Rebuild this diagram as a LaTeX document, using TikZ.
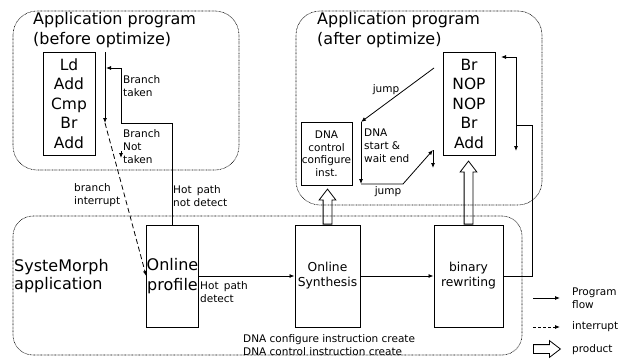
\documentclass[tikz,border=0pt]{standalone}
\usepackage{fontspec}
\setmainfont{DejaVu Sans}
\usetikzlibrary{arrows.meta,shapes.arrows}

\begin{document}
\begin{tikzpicture}[x=1pt, y=-1pt,
    panel/.style={draw, line width=.6pt, dash pattern=on .7pt off .7pt, rounded corners=24pt},
    title/.style={align=left, anchor=west, inner sep=0pt, font=\fontsize{16}{19.5}\selectfont},
    prog/.style={draw, line width=1pt, align=center, inner sep=0pt, minimum width=52pt, minimum height=103pt, font=\fontsize{15.5}{19.5}\selectfont},
    unit/.style={draw, line width=1pt, align=center, inner sep=0pt},
    lbl/.style={align=left, anchor=west, inner sep=0pt, font=\fontsize{10.5}{13}\selectfont},
    flow/.style={line width=.8pt, -{Latex[length=5pt,width=4pt]}},
    intr/.style={flow, dash pattern=on 5pt off 3pt},
    product/.style={draw, line width=.8pt, single arrow, single arrow head extend=4pt, single arrow tip angle=75, inner xsep=0pt, inner ysep=4pt}]
    \useasboundingbox (0,0) rectangle (635,359);

    \draw[panel] (13,11) rectangle (239,170);
    \draw[panel] (296,11) rectangle (542,205);
    \draw[panel, rounded corners=20pt] (13,216) rectangle (522,355);

    \node[title] (beforet) at (33,30) {Application program\\(before optimize)};
    \node[title] (aftert) at (317,30) {Application program\\(after optimize)};
    \node[title, font=\fontsize{16}{18.5}\selectfont] (sys) at (14,276) {SysteMorph\\application};

    \node[prog] (src) at (69,103.5) {Ld\\Add\\Cmp\\Br\\Add};
    \node[prog] (dst) at (469,103.5) {Br\\NOP\\NOP\\Br\\Add};
    \node[unit, minimum width=51pt, minimum height=63pt, font=\fontsize{10.5}{12.5}\selectfont] (dna) at (326.5,153.5) {DNA\\control\\configure\\inst.};
    \node[unit, minimum width=51pt, minimum height=102pt, font=\fontsize{16}{20}\selectfont] (profile) at (172.5,276) {Online\\profile};
    \node[unit, minimum width=65pt, minimum height=102pt, font=\fontsize{12.3}{15}\selectfont] (synth) at (327.5,276) {Online\\Synthesis};
    \node[unit, minimum width=69pt, minimum height=102pt, font=\fontsize{12.3}{15}\selectfont] (rewrite) at (468.5,276) {binary\\rewriting};

    \coordinate (f0) at (105,52);
    \coordinate (f1) at (105,123);
    \coordinate (bt) at (121,123);
    \coordinate (tk) at (106,68);
    \coordinate (nt0) at (121,151);
    \coordinate (nt1) at (121,158);
    \coordinate (rw) at (532,125);
    \coordinate (sp) at (516,125);
    \coordinate (back) at (501,57);
    \coordinate (down) at (516,151);
    \coordinate (j0) at (434,68);
    \coordinate (w0) at (361,122);
    \coordinate (w1) at (361,184);
    \coordinate (jb) at (403,184);
    \coordinate (jt) at (433,150);
    \coordinate (jd) at (433,168);

    \draw[flow] (f0) -- (f1);
    \draw[flow] (profile.north) |- (bt) |- (tk);
    \draw[flow] (nt0) -- (nt1);
    \draw[intr] (f1) -- (profile.west);
    \draw[flow] (profile.east) -- (synth.west);
    \draw[flow] (synth.east) -- (rewrite.west);
    \draw[flow] (rewrite.east) -| (rw) -- (sp) |- (back);
    \draw[flow] (sp) -- (down);
    \draw[flow] (j0) -- (w0);
    \draw[flow] (w0) -- (w1);
    \draw[flow] (w1) -- (jb) -- (jt);
    \draw[flow] (jt) -- (jd);

    \node[product, rotate=90, minimum height=35pt, anchor=tail] (pr1) at (synth.north) {};
    \node[product, rotate=90, minimum height=63pt, anchor=tail] (pr2) at (rewrite.north) {};

    \node[lbl] (btk) at (123,86) {Branch\\taken};
    \node[lbl] (bnt) at (123,147) {Branch\\Not\\taken};
    \node[lbl] (bint) at (74,195) {branch\\interrupt};
    \node[lbl] (hnd) at (173,196) {Hot\enspace path\\not detect};
    \node[lbl] (hd) at (200,292) {Hot\enspace path\\detect};
    \node[lbl, anchor=center] (jmp1) at (386,90) {jump};
    \node[lbl] (wait) at (364,146) {DNA\\start \&\\wait end};
    \node[lbl, anchor=center] (jmp2) at (388,192) {jump};
    \node[lbl] (create) at (243,345) {DNA configure instruction create\\DNA control instruction create};

    \coordinate (l1a) at (533,298);
    \coordinate (l1b) at (560,298);
    \coordinate (l2a) at (533,327);
    \coordinate (l2b) at (560,327);
    \draw[flow] (l1a) -- (l1b);
    \draw[intr, dash pattern=on 3pt off 2pt] (l2a) -- (l2b);
    \node[product, minimum height=27pt, anchor=tail] (lprod) at (533,349) {};
    \node[lbl] (lflow) at (572,298) {Program\\flow};
    \node[lbl] (lintr) at (572,327) {interrupt};
    \node[lbl] (lprodt) at (572,350) {product};
  \end{tikzpicture}
\end{document}
